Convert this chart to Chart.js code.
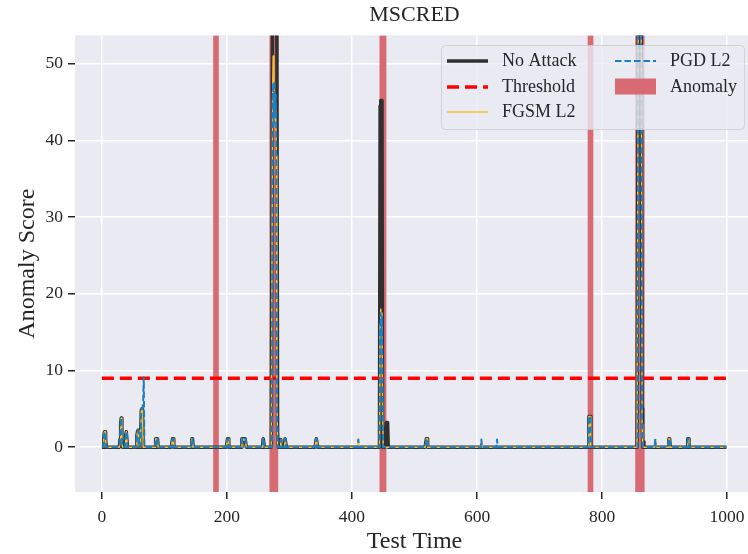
<!DOCTYPE html>
<html>
<head>
<meta charset="utf-8">
<script src="https://cdn.jsdelivr.net/npm/chart.js@4.4.1/dist/chart.umd.min.js"></script>
<style>
html, body { margin: 0; padding: 0; background: #ffffff; overflow: hidden; }
#wrap { width: 748px; height: 554px; overflow: hidden; }
</style>
</head>
<body>
<div id="wrap"><canvas id="myChart" width="760" height="554"></canvas></div>
<script>
// tick labels
const xTicks = [0, 200, 400, 600, 800, 1000];
const yTicks = [0, 10, 20, 30, 40, 50];

// test time steps 0..999
const nSteps = 1000;
const thresholdValue = 9;

// small bumps seen in all three score series [time, score]
const sharedBumps = [
    [3, 1.2], [4, 2], [5, 2], [6, 1],
    [29, 1], [30, 3], [31, 3.8], [32, 1],
    [38, 1.5], [39, 2], [40, 2],
    [56, 1.5], [57, 2], [58, 2.2], [59, 1],
    [62, 1], [63, 4.8], [64, 5], [65, 5],
    [86, 1.1], [87, 1.1], [88, 1.1], [89, 1.1],
    [113, 1.1], [114, 1.1],
    [144, 1.1], [145, 1.1],
    [201, 1.1], [202, 1.1],
    [224, 1.1], [225, 1.1], [226, 1.1], [227, 0.9], [228, 1.1], [229, 1.1], [230, 1.1],
    [258, 1.1], [259, 1.1],
    [286, 1.0],
    [293, 1.1], [294, 1.1],
    [343, 1.1], [344, 1.1],
    [519, 1.1], [520, 1.1],
    [779, 4], [780, 4], [781, 4],
    [907, 1.1], [908, 1.1],
    [937, 1.1], [938, 1.1]
];

// series specific points [time, score]
const noAttackPeaks = [
    [273, 62], [274, 58], [275, 70], [276, 60], [277, 68], [278, 58], [279, 66], [280, 50], [281, 2],
    [445, 44.5], [446, 45.2], [447, 44.8], [448, 45.2],
    [455, 3.2], [456, 3.2], [457, 3.2],
    [858, 62], [859, 55], [860, 66], [861, 58], [862, 64], [863, 50], [864, 5], [866, 0.7]
];
const fgsmPeaks = [
    [273, 45], [274, 51], [275, 43], [276, 46], [277, 42], [278, 44], [279, 38], [280, 6],
    [410, 1.0],
    [445, 16], [446, 18], [447, 15], [448, 17.5], [449, 4],
    [607, 0.8],
    [858, 60], [859, 54], [860, 64], [861, 56], [862, 60], [863, 48], [864, 3],
    [885, 1.0]
];
const pgdPeaks = [
    [66, 6], [67, 9.1],
    [273, 44], [274, 47.5], [275, 42], [276, 47.8], [277, 43], [278, 46], [279, 40], [280, 5],
    [410, 1.0],
    [445, 15], [446, 17.5], [447, 14], [448, 17], [449, 3],
    [607, 1.0], [632, 1.0],
    [858, 60], [859, 54], [860, 63], [861, 56], [862, 61], [863, 48], [864, 2],
    [885, 1.1]
];

// labelled anomaly windows [start, end]
const anomalyRanges = [[178, 187], [268, 282], [444, 455], [777, 786], [853, 868]];

const serif = "'Liberation Serif', 'Times New Roman', serif";
const textColor = '#262626';

function buildSeries(extra) {
    const y = new Array(nSteps).fill(0);
    sharedBumps.forEach(([t, v]) => { y[t] = v; });
    extra.forEach(([t, v]) => { y[t] = v; });
    return y.map((v, t) => ({ x: t, y: v }));
}

const plotBackground = {
    id: 'plotBackground',
    beforeDraw(chart) {
        const { ctx, chartArea } = chart;
        ctx.save();
        ctx.fillStyle = '#EAEAF2';
        ctx.fillRect(chartArea.left, chartArea.top, chartArea.width, chartArea.height);
        ctx.restore();
    }
};

const anomalyBands = {
    id: 'anomalyBands',
    beforeDatasetsDraw(chart) {
        const { ctx, chartArea, scales } = chart;
        ctx.save();
        ctx.beginPath();
        ctx.rect(chartArea.left, chartArea.top, chartArea.width, chartArea.height);
        ctx.clip();
        ctx.fillStyle = 'rgb(216,106,115)';
        anomalyRanges.forEach(([a, b]) => {
            const x0 = scales.x.getPixelForValue(a);
            const x1 = scales.x.getPixelForValue(b);
            ctx.fillRect(x0, chartArea.top, x1 - x0, chartArea.height);
        });
        ctx.restore();
    }
};

// two column legend like matplotlib's ncol=2
const legendBox = {
    id: 'legendBox',
    afterDraw(chart) {
        const ctx = chart.ctx;
        const ds = chart.data.datasets;
        const items = [
            { ds: ds[0], col: 0, row: 0 },
            { ds: ds[1], col: 0, row: 1 },
            { ds: ds[2], col: 0, row: 2 },
            { ds: ds[3], col: 1, row: 0 },
            { patch: true, label: 'Anomaly', col: 1, row: 1 }
        ];
        const box = { x: 441.5, y: 45.5, w: 303, h: 84 };
        const colX = [447, 615];
        const rowY = [61, 87, 112];
        ctx.save();
        ctx.beginPath();
        ctx.roundRect(box.x, box.y, box.w, box.h, 4);
        ctx.fillStyle = 'rgba(234,234,242,0.8)';
        ctx.fill();
        ctx.strokeStyle = 'rgba(204,204,204,0.8)';
        ctx.lineWidth = 1;
        ctx.stroke();
        ctx.font = '18px ' + serif;
        ctx.textBaseline = 'middle';
        ctx.fillStyle = textColor;
        items.forEach(it => {
            const x = colX[it.col], y = rowY[it.row];
            if (it.patch) {
                ctx.fillStyle = 'rgb(216,106,115)';
                ctx.fillRect(x, y - 8.5, 41, 16);
            } else {
                ctx.beginPath();
                ctx.setLineDash(it.ds.borderDash || []);
                ctx.strokeStyle = it.ds.borderColor;
                ctx.lineWidth = it.ds.borderWidth;
                ctx.moveTo(x, y);
                ctx.lineTo(x + 41, y);
                ctx.stroke();
                ctx.setLineDash([]);
            }
            ctx.fillStyle = textColor;
            ctx.fillText(it.patch ? it.label : it.ds.label, x + 55, y);
        });
        ctx.restore();
    }
};

const ctx = document.getElementById('myChart').getContext('2d');
new Chart(ctx, {
    type: 'line',
    data: {
        datasets: [
            {
                label: 'No Attack',
                data: buildSeries(noAttackPeaks),
                borderColor: '#303030',
                borderWidth: 3.5,
                order: 4
            },
            {
                label: 'Threshold',
                data: [{ x: 0, y: thresholdValue }, { x: nSteps - 1, y: thresholdValue }],
                borderColor: '#ff0000',
                borderWidth: 3.5,
                borderDash: [12, 6],
                order: 3
            },
            {
                label: 'FGSM L2',
                data: buildSeries(fgsmPeaks),
                borderColor: '#f9c134',
                borderWidth: 1.5,
                order: 2
            },
            {
                label: 'PGD L2',
                data: buildSeries(pgdPeaks),
                borderColor: '#1b7fc1',
                borderWidth: 2,
                borderDash: [6.5, 3],
                order: 1
            }
        ]
    },
    options: {
        responsive: false,
        animation: false,
        devicePixelRatio: 1,
        layout: { padding: { left: 0, right: 6, top: 0, bottom: 0 } },
        elements: {
            point: { radius: 0, hoverRadius: 0 },
            line: { tension: 0, fill: false, borderJoinStyle: 'round' }
        },
        plugins: {
            legend: { display: false },
            tooltip: { enabled: false },
            title: {
                display: true,
                text: 'MSCRED',
                fullSize: false,
                color: textColor,
                font: { family: serif, size: 22, weight: 'normal' },
                padding: { top: 2, bottom: 7 }
            }
        },
        scales: {
            x: {
                type: 'linear',
                min: -43,
                max: 1043,
                afterBuildTicks: s => { s.ticks = xTicks.map(v => ({ value: v })); },
                afterFit: s => { s.height = 62; },
                grid: { color: '#ffffff', lineWidth: 1.5, drawTicks: true, tickLength: 7, tickColor: '#262626', tickWidth: 1.5 },
                border: { display: false },
                ticks: { color: textColor, font: { family: serif, size: 17.5 }, padding: 8, maxRotation: 0, callback: v => String(v) },
                title: {
                    display: true,
                    text: 'Test Time',
                    color: textColor,
                    font: { family: serif, size: 24, lineHeight: 1 },
                    padding: { top: 0, bottom: 0 }
                }
            },
            y: {
                min: -5.85,
                max: 53.7,
                afterBuildTicks: s => { s.ticks = yTicks.map(v => ({ value: v })); },
                afterFit: s => { s.width = 75; },
                grid: { color: '#ffffff', lineWidth: 1.5, drawTicks: true, tickLength: 7, tickColor: '#262626', tickWidth: 1.5 },
                border: { display: false },
                ticks: { color: textColor, font: { family: serif, size: 17.5 }, padding: 5, callback: v => String(v) },
                title: {
                    display: true,
                    text: 'Anomaly Score',
                    color: textColor,
                    font: { family: serif, size: 24, lineHeight: 1 },
                    padding: { top: 16, bottom: 0 }
                }
            }
        }
    },
    plugins: [plotBackground, anomalyBands, legendBox]
});
</script>
</body>
</html>
